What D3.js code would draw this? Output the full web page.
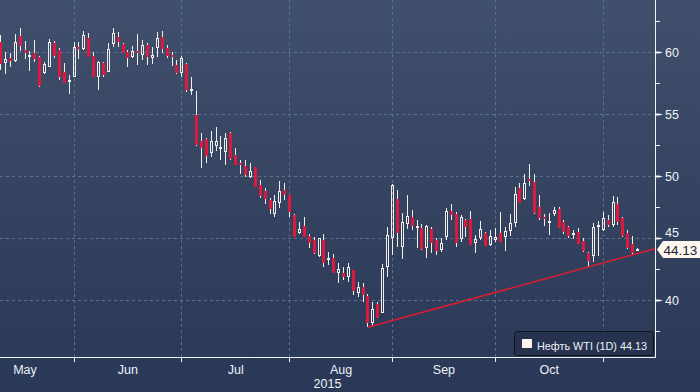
<!DOCTYPE html>
<html lang="en">
<head>
<meta charset="UTF-8">
<title>WTI candles</title>
<script src="https://d3js.org/d3.v7.min.js"></script>
<style>
    html, body { margin: 0; padding: 0; background: #2c3a58; }
    svg { display: block; }
    text { font-family: "Liberation Sans", Arial, sans-serif; }
</style>
</head>
<body>
<div id="chart"></div>
<script>
// daily candles, trading-day index 0..130
const opens = [60.81,59.11,59.52,59.27,61.29,60.16,59.72,59.92,59.60,58.31,58.79,60.73,60.16,58.39,57.58,57.98,60.40,60.24,61.13,59.68,
    57.98,59.11,58.39,60.65,61.21,60.65,60.00,59.60,60.08,59.76,60.56,59.52,60.32,61.21,60.32,59.76,58.95,58.31,59.03,56.85,
    54.92,52.83,52.99,51.86,52.42,52.26,51.94,53.47,51.70,51.05,50.81,49.92,50.73,49.28,48.80,48.07,46.94,47.83,48.88,48.47,
    46.86,45.41,45.98,45.17,44.85,43.56,44.85,43.32,43.40,42.19,42.19,41.87,42.43,40.58,41.06,40.33,38.16,39.69,38.96,42.67,
    45.01,48.15,44.28,46.14,46.70,45.81,45.81,44.20,45.73,44.85,44.04,45.09,47.18,46.94,44.93,46.46,46.54,44.61,45.01,45.41,
    44.44,44.85,45.41,45.09,45.57,46.22,49.04,48.15,49.76,49.52,47.51,46.70,46.30,46.94,47.35,46.30,45.90,45.25,45.49,44.77,
    43.80,43.56,45.98,45.65,46.46,46.06,47.75,46.62,45.41,44.53,44.10];
const highs = [61.37,60.00,59.92,61.45,61.94,60.89,60.08,60.97,59.68,59.19,61.05,60.89,60.32,59.11,58.15,60.81,60.81,61.69,61.53,60.00,
    59.27,59.19,60.73,61.94,61.61,60.73,60.16,60.48,61.45,60.97,60.73,60.40,61.61,61.69,60.56,60.00,59.35,59.68,59.11,57.98,
    56.85,53.47,53.07,53.63,53.95,53.23,53.47,53.55,52.26,51.30,51.30,51.05,50.73,49.68,49.04,48.23,48.47,49.60,49.44,48.47,
    46.94,46.30,46.70,45.33,45.09,45.01,45.33,43.88,43.72,42.99,42.67,42.99,42.43,41.46,41.38,40.49,39.85,39.85,42.91,45.90,
    49.36,48.88,47.02,48.47,47.26,46.46,46.14,46.06,45.90,45.01,45.01,47.43,47.75,47.10,46.86,46.54,47.18,45.25,46.38,45.49,
    45.65,45.81,47.10,45.90,46.94,49.12,49.44,50.17,50.97,50.17,48.47,46.94,47.02,47.51,47.51,46.46,45.98,45.65,45.81,45.01,
    43.88,46.22,46.38,47.10,46.86,48.39,48.31,46.70,45.65,45.17,44.20];
const lows = [58.55,58.23,58.79,59.19,60.08,59.44,58.47,59.19,57.18,58.23,58.79,59.52,57.74,57.50,56.61,57.98,59.44,60.16,59.60,57.98,
    56.94,57.98,58.39,60.40,60.40,59.92,58.79,59.52,58.95,59.35,58.95,59.03,59.60,59.92,59.52,58.87,58.23,57.98,56.77,56.53,
    52.42,50.65,51.05,51.54,52.02,51.30,50.89,51.30,50.89,50.17,49.92,49.84,49.12,48.23,47.75,46.94,46.70,47.43,48.07,46.70,
    45.09,45.33,45.09,44.20,43.72,43.48,42.67,42.83,42.19,41.38,41.62,41.46,40.41,40.25,39.85,37.84,37.92,38.56,38.96,41.87,
    43.64,44.28,43.32,45.73,45.65,44.20,44.04,43.40,43.80,43.64,43.88,44.85,46.46,44.28,44.69,45.09,44.44,43.80,44.85,44.36,
    44.36,44.69,44.69,43.96,45.17,45.90,47.83,48.07,49.20,46.94,46.46,45.98,45.25,46.78,45.81,45.33,45.01,44.93,44.53,43.88,
    42.67,43.07,43.56,45.57,45.90,45.90,46.06,45.09,44.12,43.64,44.04];
const closes = [59.03,59.44,59.27,60.81,60.48,59.92,59.76,59.44,57.26,59.03,60.81,59.68,57.98,57.50,57.74,60.40,60.24,61.37,59.60,57.98,
    59.19,58.15,60.24,61.53,60.81,59.92,59.52,60.08,59.92,60.56,59.60,59.76,61.13,60.24,59.68,59.60,58.31,59.52,56.94,57.02,
    52.50,52.26,51.62,52.83,52.83,52.34,53.07,51.38,50.89,50.97,50.09,50.41,49.12,48.39,48.15,47.35,47.99,48.80,48.47,47.10,
    45.09,45.73,45.09,44.61,43.80,45.01,42.99,43.40,42.19,42.51,41.87,42.67,40.74,41.06,40.41,38.16,39.29,38.56,42.59,45.25,
    49.28,45.41,46.30,46.78,45.98,45.98,44.12,45.98,44.61,43.96,44.61,47.18,46.86,44.61,46.70,45.90,44.44,44.93,45.73,44.36,
    45.17,45.09,44.69,45.57,46.22,48.55,47.83,49.44,49.60,47.02,46.62,46.62,46.38,47.26,45.81,45.49,45.17,45.41,44.53,43.96,
    43.15,45.90,46.06,46.62,46.06,47.91,46.30,45.17,44.20,43.80,44.13];

// first trading day of each month (index), May starts before the visible range
const monthStarts = [-5, 15, 37, 59, 80, 101, 123];
const monthLabels = ["May", "Jun", "Jul", "Aug", "Sep", "Oct"];
const yearLabel = "2015";
const yMajor = [40, 45, 50, 55, 60];
const yMinor = [37.5, 42.5, 47.5, 52.5, 57.5, 62.5];
// support line: from the August low out to the price axis
const trendIdx = [75, 133.6];
const trendVal = [37.80, 44.14];
const lastPrice = 44.13;
const legendText = "Нефть WTI (1D) 44.13";

const W = 700, H = 392;
const plotR = 655, plotB = 357;

const svg = d3.select("#chart").append("svg")
    .attr("width", W).attr("height", H);

const defs = svg.append("defs");
const grad = defs.append("linearGradient")
    .attr("id", "bg").attr("x1", 0).attr("y1", 0).attr("x2", 0).attr("y2", 1);
grad.append("stop").attr("offset", "0%").attr("stop-color", "#404f6b");
grad.append("stop").attr("offset", "100%").attr("stop-color", "#2a3857");
defs.append("clipPath").attr("id", "plotClip")
    .append("rect").attr("x", 0).attr("y", 0).attr("width", plotR).attr("height", plotB);

svg.append("rect").attr("width", W).attr("height", H).attr("fill", "url(#bg)");

const x = d3.scaleLinear().domain([0, 130]).range([0.5, 637.5]);
const y = d3.scaleLinear().domain([40, 60]).range([300, 52]);

const grid = svg.append("g").attr("stroke", "#58728f").attr("stroke-dasharray", "3,3").attr("stroke-width", 1);
grid.selectAll("line.h").data(yMajor).enter().append("line")
    .attr("x1", 0).attr("x2", plotR)
    .attr("y1", d => Math.round(y(d)) + 0.5).attr("y2", d => Math.round(y(d)) + 0.5);
grid.selectAll("line.v").data(monthStarts.slice(1)).enter().append("line")
    .attr("y1", 0).attr("y2", plotB)
    .attr("x1", d => Math.floor(x(d)) + 0.5).attr("x2", d => Math.floor(x(d)) + 0.5);

// candles
const candles = d3.range(opens.length).map(i => ({
    i, o: opens[i], h: highs[i], l: lows[i], c: closes[i]
}));
const plot = svg.append("g").attr("clip-path", "url(#plotClip)");
const red = "#dc1a3e";

candles.forEach(d => {
    const cx = Math.floor(x(d.i));
    const up = d.c >= d.o;
    const top = Math.round(y(Math.max(d.o, d.c)));
    const bot = Math.round(y(Math.min(d.o, d.c)));
    const hi = Math.round(y(d.h)), lo = Math.round(y(d.l));
    const g = plot.append("g");
    if (top > hi) g.append("line").attr("x1", cx + 0.5).attr("x2", cx + 0.5)
        .attr("y1", hi).attr("y2", top).attr("stroke", "#f4eeea").attr("stroke-width", 1);
    if (lo > bot) g.append("line").attr("x1", cx + 0.5).attr("x2", cx + 0.5)
        .attr("y1", bot).attr("y2", lo).attr("stroke", "#f4eeea").attr("stroke-width", 1);
    if (up) {
        g.append("rect").attr("x", cx - 0.5).attr("y", top + 0.5)
            .attr("width", 2).attr("height", Math.max(bot - top - 1, 1))
            .attr("fill", "none").attr("stroke", "#f4eeea").attr("stroke-width", 1);
    } else {
        g.append("rect").attr("x", cx - 1).attr("y", top)
            .attr("width", 3).attr("height", Math.max(bot - top, 2))
            .attr("fill", red);
    }
});

// support line
svg.append("line")
    .attr("x1", x(trendIdx[0])).attr("y1", y(trendVal[0]))
    .attr("x2", x(trendIdx[1])).attr("y2", y(trendVal[1]))
    .attr("stroke", "#dc1c30").attr("stroke-width", 1.5);

// right axis
const axisCol = "#f2f2f2";
svg.append("line").attr("x1", plotR + 0.5).attr("x2", plotR + 0.5).attr("y1", 0).attr("y2", plotB + 1)
    .attr("stroke", axisCol);
svg.selectAll("line.minor").data(yMinor).enter().append("line")
    .attr("x1", plotR).attr("x2", plotR + 5)
    .attr("y1", d => Math.round(y(d)) + 0.5).attr("y2", d => Math.round(y(d)) + 0.5)
    .attr("stroke", axisCol);
svg.selectAll("path.major").data(yMajor).enter().append("path")
    .attr("d", d => {
        const yy = Math.round(y(d)) + 0.5;
        return `M${plotR},${yy - 1}L${plotR + 4},${yy - 1}L${plotR + 8},${yy}L${plotR + 4},${yy + 1}L${plotR},${yy + 1}Z`;
    })
    .attr("fill", axisCol);
// the last-price tag sits over the 45 label, as in the source chart
const ly = Math.round(y(lastPrice)) + 0.5;
svg.selectAll("text.ylab").data(yMajor.filter(d => Math.abs(y(d) - ly) > 14)).enter().append("text")
    .attr("x", plotR + 10).attr("y", d => y(d) + 4.5)
    .attr("fill", "#eef2f7").attr("font-size", "12.5px")
    .text(d => d);
svg.append("text").attr("x", plotR + 10).attr("y", y(45) - 1.5)
    .attr("fill", "#eef2f7").attr("font-size", "12.5px")
    .attr("clip-path", "url(#tagClip)").text(45);
defs.append("clipPath").attr("id", "tagClip")
    .append("rect").attr("x", plotR).attr("y", 0).attr("width", 50).attr("height", ly - 8.5);

// last price tag
svg.append("path")
    .attr("d", `M${plotR + 2},${ly}L${plotR + 8},${ly - 8.5}L${W},${ly - 8.5}L${W},${ly + 8.5}L${plotR + 8},${ly + 8.5}Z`)
    .attr("fill", "#fdf6ee");
svg.append("text").attr("x", plotR + 8.5).attr("y", ly + 5)
    .attr("fill", "#1d2333").attr("font-size", "13.5px").text(lastPrice.toFixed(2));

// bottom axis
svg.append("line").attr("x1", 0).attr("x2", plotR + 1).attr("y1", plotB + 0.5).attr("y2", plotB + 0.5)
    .attr("stroke", axisCol);
svg.selectAll("line.xt").data(monthStarts.slice(1)).enter().append("line")
    .attr("x1", d => Math.floor(x(d)) + 0.5).attr("x2", d => Math.floor(x(d)) + 0.5)
    .attr("y1", plotB).attr("y2", plotB + 5)
    .attr("stroke", axisCol);
svg.selectAll("text.xlab").data(monthLabels).enter().append("text")
    .attr("x", (d, k) => (x(monthStarts[k]) + x(monthStarts[k + 1])) / 2)
    .attr("y", 374).attr("text-anchor", "middle")
    .attr("fill", "#eef2f7").attr("font-size", "12.5px")
    .text(d => d);
svg.append("text").attr("x", plotR / 2).attr("y", 388).attr("text-anchor", "middle")
    .attr("fill", "#eef2f7").attr("font-size", "12.5px").text(yearLabel);

// legend
const lg = svg.append("g");
lg.append("rect").attr("x", 514.5).attr("y", 331.5).attr("width", 139).attr("height", 24).attr("rx", 3)
    .attr("fill", "#26324e").attr("stroke", "#0e1320");
lg.append("rect").attr("x", 522).attr("y", 339).attr("width", 10).attr("height", 9).attr("fill", "#fdf3ee");
lg.append("text").attr("x", 537).attr("y", 350).attr("fill", "#eef2f7").attr("font-size", "11.5px")
    .attr("textLength", 110).attr("lengthAdjust", "spacingAndGlyphs").text(legendText);
</script>
</body>
</html>
